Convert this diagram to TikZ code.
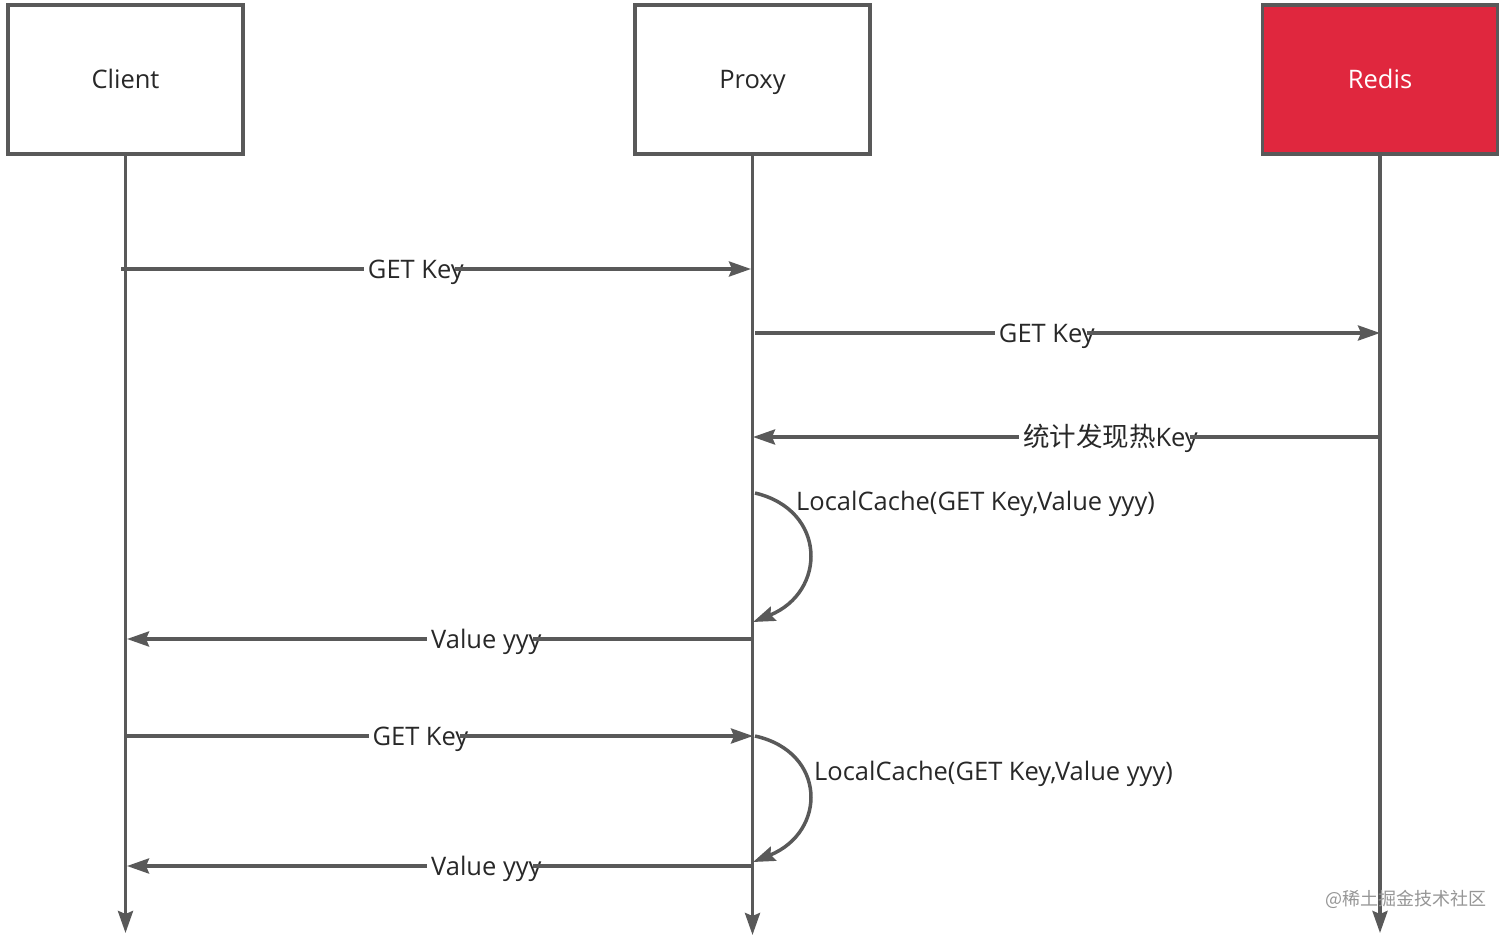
\documentclass[tikz,border=0pt]{standalone}
\usepackage{fontspec}
\setmainfont{Open Sans}
\newfontfamily\cjk{Noto Sans CJK SC}
\usetikzlibrary{arrows.meta}
\definecolor{ln}{RGB}{89,89,89}
\definecolor{redisred}{RGB}{224,39,62}
\definecolor{wm}{RGB}{150,150,150}
\definecolor{txt}{RGB}{40,40,40}
\begin{document}
\begin{tikzpicture}[x=1pt,y=-1pt,
  tip/.style={-{Stealth[length=22pt,width=15pt,inset=3pt]}},
  box/.style={draw=ln,line width=3.5pt,minimum width=235pt,minimum height=149pt,inner sep=0pt,text height=19pt,text depth=6pt,font=\fontsize{25.5}{30}\selectfont,text=txt},
  life/.style={draw=ln,line width=3.5pt,tip},
  msg/.style={draw=ln,line width=3.5pt,tip},
  tail/.style={draw=ln,line width=3.5pt},
  lbl/.style={fill=white,inner xsep=4pt,inner ysep=1pt,text height=19pt,text depth=6pt,yshift=-3pt,font=\fontsize{25.5}{30}\selectfont,text=txt},
  self/.style={draw=ln,line width=3.5pt,tip},
  note/.style={inner sep=0pt,anchor=west,text height=19pt,text depth=6pt,font=\fontsize{25.5}{30}\selectfont,text=txt}]
\useasboundingbox (0,0) rectangle (1512,935);
\fill[white] (0,0) rectangle (1512,935);
% boxes
\node[box] (client) at (125.5,79.5) {\raisebox{-2pt}{Client}};
\node[box] (proxy) at (752.5,79.5) {\raisebox{-2pt}{Proxy}};
\node[box,fill=redisred,text=white] (redis) at (1380,79.5) {\raisebox{-2pt}{Redis}};
% lifeline ends
\coordinate (cend) at (125.5,933);
\coordinate (pend) at (752.5,935);
\coordinate (rend) at (1380,933);
\draw[life] (client.south) -- (cend);
\draw[life] (proxy.south) -- (pend);
\draw[life] (redis.south) -- (rend);
% message points
\coordinate (m1a) at (121,269);   \coordinate (m1b) at (751,269);
\coordinate (m2a) at (755,333);   \coordinate (m2b) at (1380,333);
\coordinate (m3a) at (1380,437);  \coordinate (m3b) at (753,437);
\coordinate (s1a) at (755,493);   \coordinate (s1b) at (753,622);
\coordinate (m4a) at (752,639);   \coordinate (m4b) at (127,639);
\coordinate (m5a) at (125.5,736); \coordinate (m5b) at (753,736);
\coordinate (s2a) at (755,736);   \coordinate (s2b) at (753,862);
\coordinate (m6a) at (752,866);   \coordinate (m6b) at (127,866);
% messages
\draw[msg] (m1a) -- (m1b) node[lbl,pos=0.468] (l1) {GET Key};
\draw[tail] ([xshift=-14pt,yshift=3pt]l1.east) -- ([yshift=3pt]l1.east);
\draw[msg] (m2a) -- (m2b) node[lbl,pos=0.467] (l2) {GET Key};
\draw[tail] ([xshift=-14pt,yshift=3pt]l2.east) -- ([yshift=3pt]l2.east);
\draw[msg] (m3a) -- (m3b) node[lbl,pos=0.43] (l3) {{\cjk\fontsize{26.5}{30}\selectfont 统计发现热}Key};
\draw[tail] ([xshift=-14pt,yshift=3pt]l3.east) -- ([yshift=3pt]l3.east);
\draw[self] (s1a) .. controls (827,510) and (827,592) .. (s1b);
\node[note] (n1) at (796,504) {LocalCache(GET Key,Value yyy)};
\draw[msg] (m4a) -- (m4b) node[lbl,pos=0.425] (l4) {Value yyy};
\draw[tail] ([xshift=-14pt,yshift=3pt]l4.east) -- ([yshift=3pt]l4.east);
\draw[msg] (m5a) -- (m5b) node[lbl,pos=0.47] (l5) {GET Key};
\draw[tail] ([xshift=-14pt,yshift=3pt]l5.east) -- ([yshift=3pt]l5.east);
\draw[self] (s2a) .. controls (827,752) and (827,832) .. (s2b);
\node[note] (n2) at (814,774) {LocalCache(GET Key,Value yyy)};
\draw[msg] (m6a) -- (m6b) node[lbl,pos=0.425] (l6) {Value yyy};
\draw[tail] ([xshift=-14pt,yshift=3pt]l6.east) -- ([yshift=3pt]l6.east);
% watermark
\node[inner sep=0pt,text=wm,font=\cjk\fontsize{18}{20}\selectfont] (wmk) at (1406,899) {@稀土掘金技术社区};
\end{tikzpicture}
\end{document}
